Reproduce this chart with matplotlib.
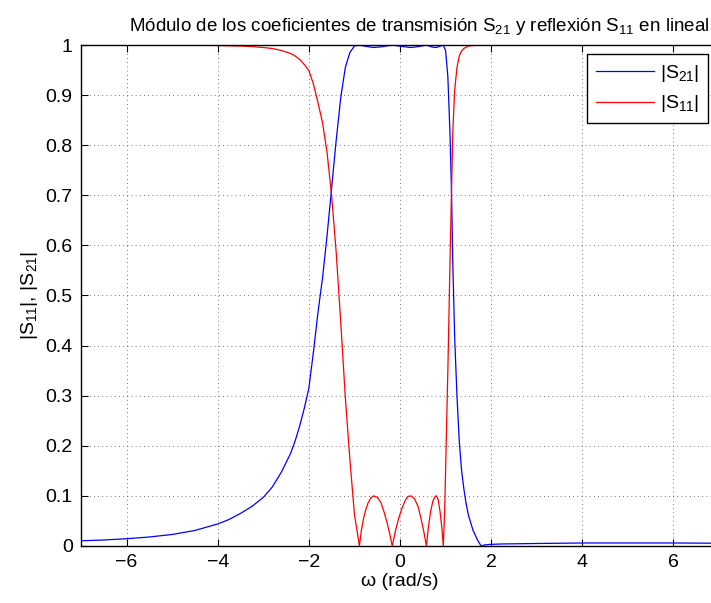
"""Transmission / reflection magnitude of a 4th-order prototype filter (linear scale)."""

import matplotlib

matplotlib.use("Agg")
import matplotlib.pyplot as plt  # noqa: E402
from matplotlib.ticker import FormatStrFormatter, MultipleLocator  # noqa: E402

plt.rcParams["font.family"] = ["Liberation Sans", "DejaVu Sans"]
plt.rcParams["mathtext.fontset"] = "custom"
plt.rcParams["mathtext.rm"] = "Liberation Sans"
plt.rcParams["mathtext.it"] = "Liberation Sans"
plt.rcParams["font.size"] = 14

# |S21| read along omega (rad/s)
w_s21 = [-7.0, -6.5, -6.0, -5.5, -5.0, -4.5, -4.0, -3.75, -3.5, -3.25, -3.0,
         -2.8, -2.6, -2.4, -2.3, -2.2, -2.1, -2.0, -1.9, -1.8, -1.7, -1.6,
         -1.5, -1.4, -1.3, -1.2, -1.1, -1.0, -0.89, -0.75, -0.58, -0.40,
         -0.17, 0.05, 0.24, 0.42, 0.58, 0.70, 0.80, 0.88, 0.95, 1.00, 1.05,
         1.10, 1.13, 1.16, 1.20, 1.25, 1.30, 1.35, 1.40, 1.45, 1.50, 1.60,
         1.70, 1.78, 1.85, 1.95, 2.20, 2.60, 3.00, 4.00, 5.00, 6.00, 7.00]
s21 = [0.0105, 0.012, 0.0145, 0.018, 0.023, 0.031, 0.044, 0.053, 0.065,
       0.079, 0.097, 0.118, 0.148, 0.185, 0.210, 0.240, 0.275, 0.315, 0.387,
       0.466, 0.535, 0.620, 0.715, 0.810, 0.895, 0.955, 0.985, 0.998, 1.000,
       0.9973, 0.995, 0.9965, 1.000, 0.997, 0.995, 0.997, 1.000, 0.996,
       0.995, 0.9977, 1.000, 0.989, 0.937, 0.815, 0.707, 0.560, 0.415,
       0.300, 0.210, 0.152, 0.115, 0.085, 0.062, 0.032, 0.012, 0.000, 0.002,
       0.003, 0.004, 0.0045, 0.005, 0.006, 0.006, 0.006, 0.0055]

# |S11| read along omega (rad/s)
w_s11 = [-7.0, -4.5, -4.0, -3.5, -3.25, -3.0, -2.8, -2.6, -2.4, -2.3, -2.2,
         -2.1, -2.0, -1.9, -1.8, -1.7, -1.6, -1.5, -1.4, -1.3, -1.2, -1.1,
         -1.0, -0.89, -0.85, -0.80, -0.75, -0.70, -0.64, -0.58, -0.50, -0.42,
         -0.35, -0.28, -0.22, -0.17, -0.10, -0.03, 0.05, 0.12, 0.18, 0.24,
         0.32, 0.40, 0.46, 0.52, 0.58, 0.62, 0.67, 0.72, 0.77, 0.80, 0.84,
         0.88, 0.92, 0.95, 0.98, 1.00, 1.05, 1.10, 1.13, 1.16, 1.20, 1.25,
         1.30, 1.35, 1.40, 1.50, 1.70, 2.00, 7.00]
s11 = [1.000, 1.000, 0.999, 0.998, 0.9968, 0.995, 0.993, 0.989, 0.983, 0.978,
       0.971, 0.961, 0.949, 0.922, 0.885, 0.845, 0.785, 0.699, 0.586, 0.446,
       0.297, 0.173, 0.063, 0.000, 0.030, 0.055, 0.073, 0.086, 0.096, 0.100,
       0.097, 0.087, 0.068, 0.045, 0.022, 0.000, 0.030, 0.055, 0.077, 0.092,
       0.099, 0.100, 0.094, 0.078, 0.055, 0.030, 0.000, 0.035, 0.068, 0.089,
       0.099, 0.100, 0.092, 0.068, 0.035, 0.000, 0.070, 0.150, 0.350, 0.580,
       0.707, 0.830, 0.910, 0.955, 0.978, 0.988, 0.993, 0.998, 0.9999, 1.000,
       1.000]

fig = plt.figure(figsize=(7.11, 6.03), dpi=100)
ax = fig.add_axes([81 / 711, 57 / 603, 638 / 711, 501 / 603])

ax.plot(w_s21, s21, color="#0000ff", lw=0.9, label=r"|S$_{21}$|")
ax.plot(w_s11, s11, color="#ff0000", lw=0.9, label=r"|S$_{11}$|")

ax.set_xlim(-7, 7)
ax.set_ylim(0, 1)
ax.xaxis.set_major_locator(MultipleLocator(2))
ax.yaxis.set_major_locator(MultipleLocator(0.1))
ax.yaxis.set_major_formatter(FormatStrFormatter("%g"))
ax.tick_params(direction="in", length=5, width=0.8, top=True, right=True,
               labelsize=14, pad=6)
ax.grid(True, ls=(0, (1, 4)), color="black", lw=0.6, alpha=0.7)
for s in ax.spines.values():
    s.set_linewidth(1.0)

ax.set_xlabel("ω (rad/s)", fontsize=14, labelpad=1)
ax.set_ylabel(r"|S$_{11}$|, |S$_{21}$|", fontsize=14, labelpad=4)
ax.set_title(r"Módulo de los coeficientes de transmisión S$_{21}$ y reflexión S$_{11}$ en lineal",
             fontsize=13.5, pad=10, x=0.53)

leg = ax.legend(loc="upper right", bbox_to_anchor=(708 / 711, 1 - 54 / 603),
                bbox_transform=fig.transFigure, borderaxespad=0, fancybox=False,
                framealpha=1, edgecolor="black", fontsize=14, handlelength=3.0,
                handletextpad=0.3, borderpad=0.45, labelspacing=0.5)
leg.get_frame().set_linewidth(1.0)

fig.savefig("out.png", dpi=100)
